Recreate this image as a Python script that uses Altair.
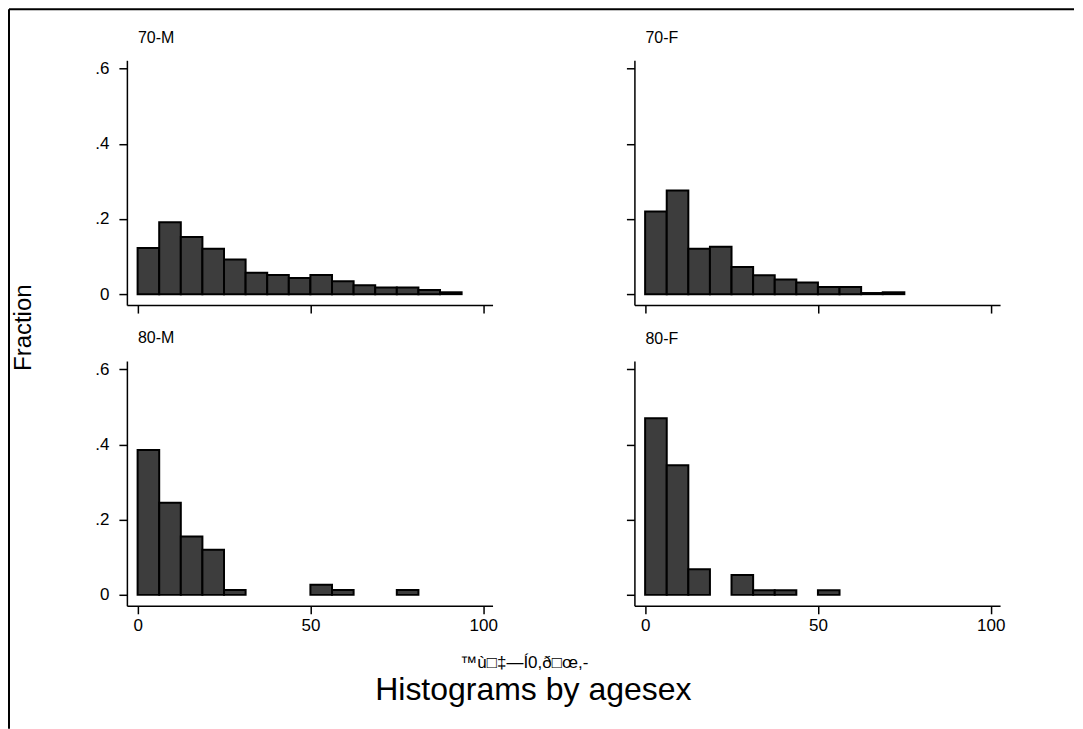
import altair as alt
import pandas as pd

FONT = "Liberation Sans"

# ---- data ----
panel_names = ["70-M", "70-F", "80-M", "80-F"]
bin_width = 6.25
frac_70m = [0.123, 0.191, 0.152, 0.121, 0.092, 0.057, 0.051, 0.043, 0.051, 0.034, 0.024, 0.018, 0.018, 0.011, 0.005]
frac_70f = [0.220, 0.276, 0.121, 0.126, 0.072, 0.050, 0.039, 0.031, 0.019, 0.019, 0.003, 0.005]
frac_80m = [0.385, 0.245, 0.155, 0.120, 0.013, 0.0, 0.0, 0.0, 0.027, 0.013, 0.0, 0.0, 0.013]
frac_80f = [0.470, 0.345, 0.068, 0.0, 0.053, 0.012, 0.012, 0.0, 0.012]
x_ticks = [0, 50, 100]
y_ticks = [0, 0.2, 0.4, 0.6]
y_title = "Fraction"
note_text = "™ù□‡—Í0,ð□œ,-"
main_title = "Histograms by agesex"

PW, PH = 366, 245
X_DOMAIN = [-3.1, 102.7]
Y_DOMAIN = [-0.029, 0.622]


def panel(name, fracs, show_x_labels, show_y_labels):
    rows = []
    for i, f in enumerate(fracs):
        if f > 0:
            rows.append({"start": i * bin_width, "end": (i + 1) * bin_width, "frac": f, "base": 0.0})
    df = pd.DataFrame(rows)
    common = dict(
        grid=False, title=None, domainColor="black", domainWidth=1.5,
        tickColor="black", tickWidth=1.5, tickSize=8,
        labelFont=FONT, labelFontSize=17, labelColor="black",
    )
    xaxis = alt.Axis(values=x_ticks, labels=show_x_labels, labelPadding=4, **common)
    yaxis = alt.Axis(
        values=y_ticks, labels=show_y_labels, labelPadding=10,
        labelExpr="datum.value == 0 ? '0' : replace(format(datum.value, '.1f'), '0.', '.')",
        **common,
    )
    return (
        alt.Chart(df, title=alt.TitleParams(
            name, anchor="start", frame="group", dx=11, font=FONT, fontSize=16,
            fontWeight="normal", color="black", offset=1, baseline="alphabetic"))
        .mark_rect(fill="#3d3d3d", stroke="black", strokeWidth=2)
        .encode(
            x=alt.X("start:Q", scale=alt.Scale(domain=X_DOMAIN, nice=False, zero=False), axis=xaxis),
            x2="end:Q",
            y=alt.Y("frac:Q", scale=alt.Scale(domain=Y_DOMAIN, nice=False, zero=False), axis=yaxis),
            y2="base:Q",
        )
        .properties(width=PW, height=PH)
    )


grid = alt.concat(
    panel(panel_names[0], frac_70m, False, True),
    panel(panel_names[1], frac_70f, False, False),
    panel(panel_names[2], frac_80m, True, True),
    panel(panel_names[3], frac_80f, True, False),
    columns=2,
    spacing={"row": 16, "column": 128},
    title=alt.TitleParams(y_title, orient="left", anchor="middle", font=FONT, fontSize=24,
                          fontWeight="normal", color="black", offset=59, dx=4),
)

mid = alt.vconcat(
    grid,
    title=alt.TitleParams(note_text, orient="bottom", anchor="middle", font=FONT, fontSize=17,
                          fontWeight="normal", color="black", offset=21, dx=16),
)

content = alt.vconcat(
    mid,
    title=alt.TitleParams(main_title, orient="bottom", anchor="middle", font=FONT, fontSize=32,
                          fontWeight="normal", color="black", offset=4, dx=25),
)

# page frame (top and left border of the scanned page), drawn relative to the first plot's origin
dummy = pd.DataFrame({"v": [0]})
FL, FT = -117, -51
frame_top = alt.Chart(dummy).mark_rule(color="black", strokeWidth=2).encode(
    x=alt.value(FL), x2=alt.value(FL + 1066), y=alt.value(FT))
frame_left = alt.Chart(dummy).mark_rule(color="black", strokeWidth=2).encode(
    x=alt.value(FL), y=alt.value(FT), y2=alt.value(FT + 720))
frame = alt.layer(frame_top, frame_left).properties(width=1, height=1)

chart = (
    alt.hconcat(frame, content, spacing=0, bounds="flush")
    .properties(padding=0, background="white")
    .configure_view(stroke=None)
)

chart.save("out.html", embed_options={"renderer": "svg", "actions": False})
